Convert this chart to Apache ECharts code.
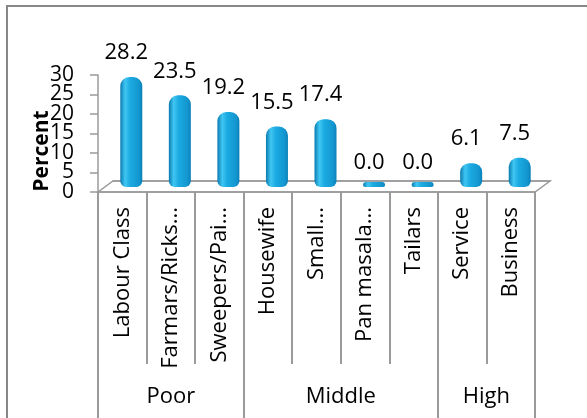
<!DOCTYPE html>
<html><head><meta charset="utf-8">
<script src="https://cdn.jsdelivr.net/npm/echarts@6/dist/echarts.min.js"></script>
<style>html,body{margin:0;padding:0;background:#fff}#c{width:587px;height:418px}</style>
</head><body><div id="c"></div>
<script>
// ---- data ----
const categories = ['Labour Class','Farmars/Ricks...','Sweepers/Pai...','Housewife','Small...','Pan masala...','Tailars','Service','Business'];
const values = [28.2, 23.5, 19.2, 15.5, 17.4, 0.0, 0.0, 6.1, 7.5];
const groupNames = ['Poor','Middle','High'];
const groupSizes = [3, 4, 2];
const yTickValues = [0, 5, 10, 15, 20, 25, 30];
const yMin = 0, yMax = 30, yStep = 5;
const yAxisTitle = 'Percent';

// ---- layout / style ----
const FONT = '"Open Sans"';
const W = 587, H = 418;
const L = 98, R = 52, T = 75, B = 226;   // front (axis) plane
const DX = 9, DY = 5;                     // bars sit mid-depth
const FDX = 15, FDY = 11;                 // floor depth
const LINE = '#9a9a9a';

const bounds = [0];
groupSizes.forEach(s => bounds.push(bounds[bounds.length - 1] + s));
const groupCenters = groupSizes.map((s, i) => bounds[i] + s / 2);
const yEven = yTickValues.filter((v, i) => i % 2 === 0);
const yOdd = yTickValues.filter((v, i) => i % 2 === 1);

const barGrad = new echarts.graphic.LinearGradient(0, 0, 1, 0, [
  {offset: 0, color: '#0a7ab0'},
  {offset: 0.22, color: '#40c6f2'},
  {offset: 0.45, color: '#1caae2'},
  {offset: 0.85, color: '#1396cf'},
  {offset: 1, color: '#0b80b8'}
]);

const barData = values.map(v => ({
  value: v,
  label: {distance: v === 0 ? 8 : 13}
}));

const yLabelStyle = {margin: 24, fontSize: 21, lineHeight: 14, color: '#000', fontFamily: FONT,
  showMinLabel: true, showMaxLabel: true};

const chart = echarts.init(document.getElementById('c'), null, {renderer: 'canvas'});
const floorY = H - B;
chart.setOption({
  animation: false,
  backgroundColor: '#fff',
  textStyle: {fontFamily: FONT},
  grid: [
    {left: L, right: R, top: T, bottom: B},
    {left: L + DX, right: R - DX, top: T - DY, bottom: B + DY},
    {left: L + FDX, right: R - FDX, top: T - FDY, bottom: B + FDY},
    {left: L, right: R, top: T, bottom: B}
  ],
  xAxis: [
    {
      gridIndex: 0, type: 'category', data: categories, boundaryGap: true,
      axisLine: {show: true, lineStyle: {color: LINE, width: 1.5}},
      axisTick: {show: true, interval: 0, length: 172, lineStyle: {color: LINE, width: 2}},
      axisLabel: {interval: 0, rotate: 90, margin: 15, fontSize: 22, color: '#000', fontFamily: FONT}
    },
    {
      gridIndex: 1, type: 'category', data: categories, show: false
    },
    {
      gridIndex: 0, type: 'value', min: 0, max: categories.length, position: 'bottom', offset: 172,
      axisLine: {show: false, onZero: false},
      splitLine: {show: false},
      axisTick: {show: true, customValues: bounds, length: 60, lineStyle: {color: LINE, width: 2}},
      axisLabel: {
        customValues: groupCenters, margin: 22, fontSize: 22, color: '#000', fontFamily: FONT,
        formatter: v => groupNames[groupCenters.indexOf(v)]
      }
    },
    {
      gridIndex: 2, type: 'category', data: categories,
      axisLine: {show: true, lineStyle: {color: LINE, width: 1.5}},
      axisTick: {show: false}, axisLabel: {show: false}
    },
    {gridIndex: 3, type: 'category', data: categories, show: false}
  ],
  yAxis: [
    {
      gridIndex: 0, type: 'value', min: yMin, max: yMax, interval: yStep, position: 'left',
      axisLine: {show: true, lineStyle: {color: LINE, width: 1.5}},
      axisTick: {show: true, length: 8, lineStyle: {color: LINE, width: 1.5}},
      splitLine: {show: false},
      axisLabel: Object.assign({customValues: yEven}, yLabelStyle)
    },
    {gridIndex: 1, type: 'value', min: yMin, max: yMax, show: false},
    {gridIndex: 2, type: 'value', min: yMin, max: yMax, show: false},
    {
      gridIndex: 3, type: 'value', min: yMin, max: yMax, interval: yStep, position: 'left',
      axisLine: {show: false}, axisTick: {show: false}, splitLine: {show: false},
      axisLabel: Object.assign({customValues: yOdd}, yLabelStyle)
    }
  ],
  graphic: [
    {
      type: 'polygon', z: 0, silent: true,
      shape: {points: [[L, floorY], [L + FDX, floorY - FDY], [W - R + FDX, floorY - FDY], [W - R, floorY]]},
      style: {fill: '#fff', stroke: LINE, lineWidth: 1.5}
    },
    {
      type: 'text', x: 42, y: 151, rotation: Math.PI / 2, z: 10,
      style: {text: yAxisTitle, font: 'bold 21px ' + FONT, fill: '#000', textAlign: 'center', textVerticalAlign: 'middle'}
    },
    {
      type: 'rect', z: 100, silent: true,
      shape: {x: 7, y: 6, width: 640, height: 460},
      style: {fill: 'none', stroke: '#878787', lineWidth: 2}
    }
  ],
  series: [
    {
      type: 'bar', xAxisIndex: 1, yAxisIndex: 1, data: barData,
      barWidth: 22, barMinHeight: 5,
      itemStyle: {color: barGrad, borderRadius: [9, 9, 6, 6]},
      label: {
        show: true, position: 'top', offset: [-5, 0],
        fontSize: 22, color: '#000', fontFamily: FONT,
        formatter: p => p.value.toFixed(1)
      }
    }
  ]
});
</script>
</body></html>
